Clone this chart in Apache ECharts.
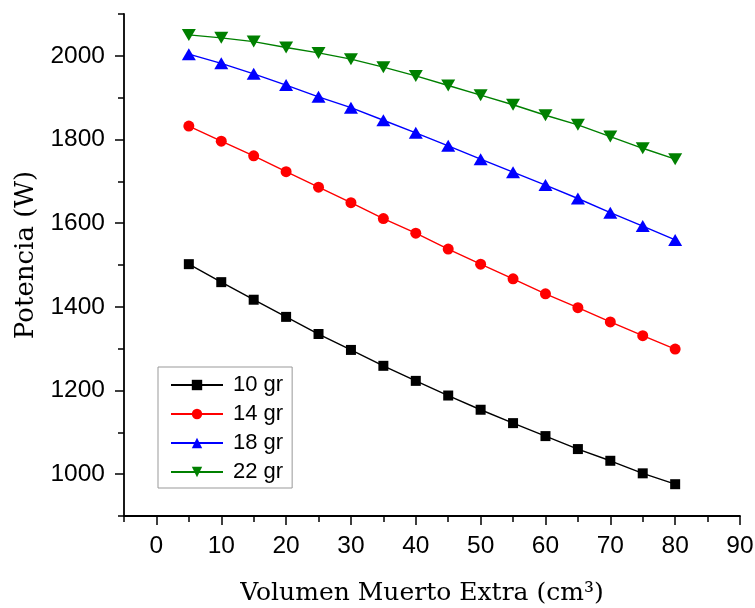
<!DOCTYPE html>
<html>
<head>
<meta charset="utf-8">
<script src="https://cdn.jsdelivr.net/npm/echarts@6/dist/echarts.min.js"></script>
<style>html,body{margin:0;padding:0;background:#fff;}#c{width:755px;height:608px;}</style>
</head>
<body>
<div id="c"></div>
<script>
const xValues = [5, 10, 15, 20, 25, 30, 35, 40, 45, 50, 55, 60, 65, 70, 75, 80];
const gr10 = [1502, 1459, 1417, 1376, 1335, 1297, 1259, 1223, 1188, 1154, 1122, 1091, 1060, 1032, 1002, 976];
const gr14 = [1832, 1796, 1761, 1723, 1686, 1649, 1611, 1576, 1538, 1502, 1467, 1431, 1398, 1364, 1331, 1299];
const gr18 = [2004, 1982, 1957, 1930, 1902, 1876, 1846, 1816, 1785, 1753, 1722, 1691, 1659, 1625, 1593, 1560];
const gr22 = [2050, 2043, 2034, 2020, 2007, 1992, 1973, 1952, 1929, 1906, 1883, 1858, 1835, 1807, 1779, 1753];
const seriesNames = ['10 gr', '14 gr', '18 gr', '22 gr'];
const xMajorTicks = [0, 10, 20, 30, 40, 50, 60, 70, 80, 90];
const xMinorTicks = [-5, 5, 15, 25, 35, 45, 55, 65, 75, 85];
const yMajorTicks = [1000, 1200, 1400, 1600, 1800, 2000];
const yMinorTicks = [900, 1100, 1300, 1500, 1700, 1900, 2100];

const pairs = arr => xValues.map((x, i) => [x, arr[i]]);

const chart = echarts.init(document.getElementById('c'), null, {renderer: 'canvas'});
const tickFont = {fontFamily: 'Liberation Sans', fontSize: 24.5, color: '#000', formatter: v => String(v)};
const axisLine = {show: true, onZero: false, lineStyle: {color: '#000', width: 1.8}};

function mkSeries(name, data, color, symbol, size, rotate) {
  return {
    name: name, type: 'line', data: pairs(data),
    xAxisIndex: 0, yAxisIndex: 0,
    symbol: symbol, symbolSize: size, symbolRotate: rotate || 0,
    showAllSymbol: true,
    itemStyle: {color: color},
    lineStyle: {color: color, width: 1.4},
    emphasis: {disabled: true},
    animation: false
  };
}

chart.setOption({
  animation: false,
  backgroundColor: '#fff',
  grid: {left: 124, right: 15, top: 14, bottom: 92, containLabel: false, outerBoundsMode: 'none'},
  legend: {
    orient: 'vertical', left: 158, top: 367,
    data: seriesNames,
    itemWidth: 52, itemHeight: 13, itemGap: 7,
    padding: [7, 9, 5, 12],
    borderColor: '#999', borderWidth: 1,
    backgroundColor: '#fff',
    textStyle: {fontFamily: 'Liberation Sans', fontSize: 22, color: '#000', lineHeight: 22, padding: [0, 0, 0, 5]}
  },
  xAxis: [
    {
      type: 'value', min: -5, max: 90, position: 'bottom',
      axisLine: axisLine,
      splitLine: {show: false},
      axisTick: {show: true, customValues: xMajorTicks, length: 9, lineStyle: {color: '#000', width: 1.5}},
      axisLabel: Object.assign({show: true, customValues: xMajorTicks, margin: 18}, tickFont),
      name: 'Volumen Muerto Extra (cm³)',
      nameLocation: 'middle', nameGap: 65,
      nameTextStyle: {fontFamily: 'DejaVu Serif', fontSize: 25, color: '#000', padding: [0, 20, 0, 0]}
    },
    {
      type: 'value', min: -5, max: 90, position: 'bottom', offset: 0,
      axisLine: {show: false, onZero: false},
      splitLine: {show: false},
      axisTick: {show: true, customValues: xMinorTicks, length: 6, lineStyle: {color: '#000', width: 1.5}},
      axisLabel: {show: false}
    }
  ],
  yAxis: [
    {
      type: 'value', min: 900, max: 2100, position: 'left',
      axisLine: axisLine,
      splitLine: {show: false},
      axisTick: {show: true, customValues: yMajorTicks, length: 9, lineStyle: {color: '#000', width: 1.5}},
      axisLabel: Object.assign({show: true, customValues: yMajorTicks, margin: 19}, tickFont),
      name: 'Potencia (W)',
      nameLocation: 'middle', nameGap: 85, nameRotate: 90,
      nameTextStyle: {fontFamily: 'DejaVu Serif', fontSize: 26, color: '#000', padding: [0, 0, 0, 20]}
    },
    {
      type: 'value', min: 900, max: 2100, position: 'left', offset: 0,
      axisLine: {show: false, onZero: false},
      splitLine: {show: false},
      axisTick: {show: true, customValues: yMinorTicks, length: 6, lineStyle: {color: '#000', width: 1.5}},
      axisLabel: {show: false}
    }
  ],
  series: [
    mkSeries(seriesNames[0], gr10, '#000000', 'rect', 10),
    mkSeries(seriesNames[1], gr14, '#ff0000', 'circle', 11),
    mkSeries(seriesNames[2], gr18, '#0000ff', 'triangle', [14, 12]),
    mkSeries(seriesNames[3], gr22, '#008000', 'triangle', [14, 12], 180)
  ]
});
</script>
</body>
</html>
